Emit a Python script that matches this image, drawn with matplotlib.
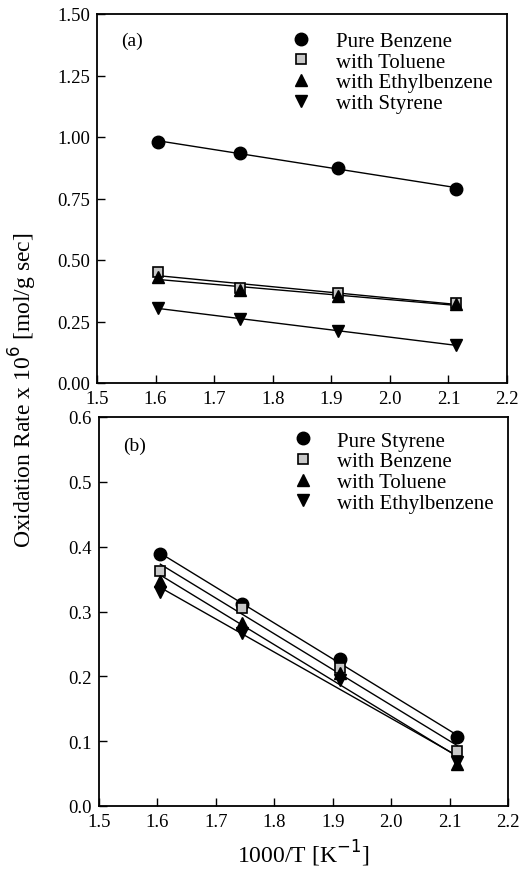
import numpy as np
import matplotlib.pyplot as plt

plt.rcParams['font.family'] = ['Liberation Serif', 'DejaVu Serif']

x = [1.605, 1.745, 1.912, 2.113]

# panel (a)
labels_a = ["Pure Benzene", "with Toluene", "with Ethylbenzene", "with Styrene"]
pure_benzene = [0.98, 0.935, 0.875, 0.79]
benz_toluene = [0.45, 0.385, 0.365, 0.325]
benz_ethylbenzene = [0.43, 0.38, 0.355, 0.32]
benz_styrene = [0.305, 0.26, 0.21, 0.155]

# panel (b)
labels_b = ["Pure Styrene", "with Benzene", "with Toluene", "with Ethylbenzene"]
pure_styrene = [0.388, 0.312, 0.226, 0.106]
sty_benzene = [0.362, 0.306, 0.213, 0.085]
sty_toluene = [0.347, 0.282, 0.205, 0.065]
sty_ethylbenzene = [0.330, 0.267, 0.195, 0.068]

styles = [
    dict(marker='o', ms=9, mfc='black', mec='black'),
    dict(marker='s', ms=7, mfc='#c8c8c8', mec='black', mew=1.2),
    dict(marker='^', ms=8, mfc='black', mec='black'),
    dict(marker='v', ms=8, mfc='black', mec='black'),
]

fig = plt.figure(figsize=(5.19, 8.70), dpi=100)
ax_a = fig.add_axes([97/519, 1 - 384/870, 410/519, 369/870])
ax_b = fig.add_axes([99/519, 1 - 807/870, 409/519, 389/870])


def panel(ax, series, labels, tag, ylim, yticks, fmt, leg_y):
    xs = np.array([x[0], x[-1]])
    for y, lab, st in zip(series, labels, styles):
        k, b = np.polyfit(x, y, 1)
        ax.plot(xs, k * xs + b, color='black', lw=1.0, zorder=2)
        ax.plot(x, y, ls='none', label=lab, zorder=3, **st)
    ax.set_xlim(1.5, 2.2)
    ax.set_ylim(*ylim)
    ax.set_xticks(np.arange(1.5, 2.21, 0.1))
    ax.set_yticks(yticks)
    ax.set_yticklabels([fmt.format(v) for v in yticks])
    ax.tick_params(direction='in', labelsize=13.5, length=6, width=1,
                   top=False, right=False, pad=5)
    for s in ax.spines.values():
        s.set_linewidth(1.3)
    ax.text(0.06, 0.915, tag, transform=ax.transAxes, fontsize=14)
    ax.legend(loc='upper left', bbox_to_anchor=(0.44, leg_y), frameon=False,
              fontsize=15, handletextpad=0.9, labelspacing=0.05,
              borderaxespad=0, handlelength=1.5)


panel(ax_a, [pure_benzene, benz_toluene, benz_ethylbenzene, benz_styrene],
      labels_a, "(a)", (0, 1.5), np.arange(0, 1.51, 0.25), "{:.2f}", 0.975)
panel(ax_b, [pure_styrene, sty_benzene, sty_toluene, sty_ethylbenzene],
      labels_b, "(b)", (0, 0.6), np.arange(0, 0.61, 0.1), "{:.1f}", 0.985)

ax_b.set_xlabel("1000/T [K$^{-1}$]", fontsize=17, labelpad=6)
fig.text(0.045, 0.552, "Oxidation Rate x 10$^6$ [mol/g sec]", rotation=90,
         ha='center', va='center', fontsize=17)

fig.savefig("out.png", dpi=100)
